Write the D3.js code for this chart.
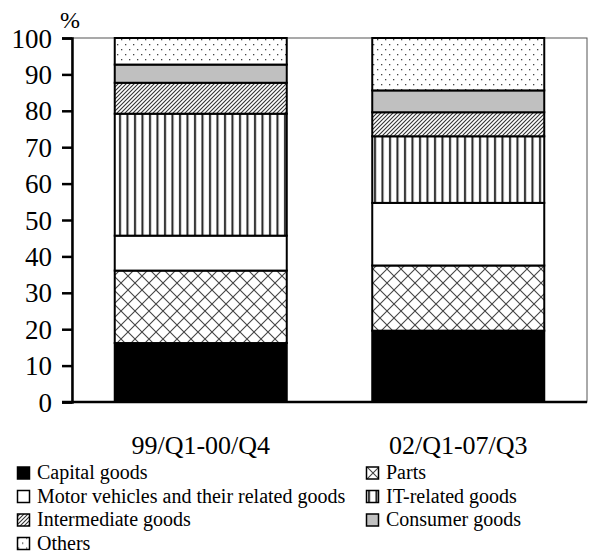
<!DOCTYPE html>
<html>
<head>
<meta charset="utf-8">
<script src="https://cdn.jsdelivr.net/npm/d3@7"></script>
<style>
  body { margin: 0; background: #fff; }
  text { font-family: "Liberation Serif", "Times New Roman", "DejaVu Serif", serif; fill: #000; }
</style>
</head>
<body>
<div id="chart"></div>
<script>
// periods on the x axis
var periods = ["99/Q1-00/Q4", "02/Q1-07/Q3"];
// categories, bottom to top of each bar
var categories = ["Capital goods", "Parts", "Motor vehicles and their related goods",
  "IT-related goods", "Intermediate goods", "Consumer goods", "Others"];
// shares (%) per period, same order as categories
var share9900 = [16.2, 19.9, 9.6, 33.5, 8.5, 5.0, 7.3];
var share0207 = [19.6, 17.9, 17.2, 18.3, 6.6, 6.0, 14.4];
var yTicks = [0, 10, 20, 30, 40, 50, 60, 70, 80, 90, 100];

var W = 597, H = 556,
  margin = {left: 72, right: 10, top: 38, bottom: 154},
  plotW = W - margin.left - margin.right,
  plotH = H - margin.top - margin.bottom,
  serif = '"Liberation Serif", "Times New Roman", "DejaVu Serif", serif';

var svg = d3.select('#chart').append('svg').attr('width', W).attr('height', H);
var defs = svg.append('defs');

//填充图案
function pattern(id, w, h, draw) {
  var p = defs.append('pattern').attr('id', id).attr('patternUnits', 'userSpaceOnUse')
    .attr('width', w).attr('height', h);
  p.append('rect').attr('width', w).attr('height', h).attr('fill', '#fff');
  draw(p);
}
pattern('pParts', 14, 14, function(p) {
  p.append('path').attr('d', 'M0,0L14,14M14,0L0,14').attr('stroke', '#444').attr('stroke-width', 1.1);
});
pattern('pIT', 7.5, 10, function(p) {
  p.append('rect').attr('x', 2).attr('width', 2).attr('height', 10).attr('fill', '#222');
});
pattern('pInter', 4, 4, function(p) {
  p.append('path').attr('d', 'M-1,1L1,-1M0,4L4,0M3,5L5,3').attr('stroke', '#333').attr('stroke-width', 1.1);
});
pattern('pOthers', 8, 10, function(p) {
  p.append('rect').attr('x', 1).attr('y', 1).attr('width', 1.3).attr('height', 1.3).attr('fill', '#444');
  p.append('rect').attr('x', 5).attr('y', 6).attr('width', 1.3).attr('height', 1.3).attr('fill', '#444');
});

var fills = ['#000', 'url(#pParts)', '#fff', 'url(#pIT)', 'url(#pInter)', '#c0c0c0', 'url(#pOthers)'];

var x = d3.scaleBand().domain(periods).range([0, plotW]).paddingInner(0.332).paddingOuter(0.166);
var y = d3.scaleLinear().domain([0, 100]).range([plotH, 0]);

var g = svg.append('g').attr('transform', 'translate(' + margin.left + ',' + margin.top + ')');

// plot frame
g.append('rect').attr('width', plotW).attr('height', plotH)
  .attr('fill', 'none').attr('stroke', '#555').attr('stroke-width', 1);

var rows = categories.map(function(c, i) {
  var o = {}; o[periods[0]] = share9900[i]; o[periods[1]] = share0207[i]; return o;
});
var table = periods.map(function(p) {
  var o = {period: p};
  categories.forEach(function(c, i) { o[c] = rows[i][p]; });
  return o;
});
var stack = d3.stack().keys(categories)(table);

g.selectAll('g.layer').data(stack).enter().append('g').attr('class', 'layer')
  .attr('fill', function(d, i) { return fills[i]; })
  .selectAll('rect').data(function(d) { return d; }).enter().append('rect')
  .attr('x', function(d) { return x(d.data.period); })
  .attr('width', x.bandwidth())
  .attr('y', function(d) { return y(d[1]); })
  .attr('height', function(d) { return y(d[0]) - y(d[1]); })
  .attr('stroke', '#000').attr('stroke-width', 2);

// y axis
var yAxis = g.append('g').call(d3.axisLeft(y).tickValues(yTicks).tickSize(10).tickPadding(10));
yAxis.attr('font-family', serif);
yAxis.select('.domain').attr('stroke', '#000').attr('stroke-width', 2.5);
yAxis.selectAll('.tick line').attr('stroke', '#000').attr('stroke-width', 2.5);
yAxis.selectAll('.tick text').style('font-size', '27px').style('font-family', serif).attr('dy', '0.34em');

// x axis
var xAxis = g.append('g').attr('transform', 'translate(0,' + plotH + ')')
  .call(d3.axisBottom(x).tickSize(0).tickPadding(34));
xAxis.attr('font-family', serif);
xAxis.select('.domain').attr('stroke', '#000').attr('stroke-width', 2.5).attr('d', 'M-10,0H' + plotW);
xAxis.selectAll('.tick text').style('font-size', '26px').style('font-family', serif);

svg.append('text').attr('x', 60).attr('y', 28).style('font-size', '24px').text('%');

// legend
var legend = svg.append('g').attr('transform', 'translate(17,466)');
var item = legend.selectAll('g').data(categories).enter().append('g')
  .attr('transform', function(d, i) { return 'translate(' + (i % 2 ? 349 : 0) + ',' + Math.floor(i / 2) * 23.5 + ')'; });
item.append('rect').attr('x', 0.5).attr('y', 1).attr('width', 12).attr('height', 12)
  .attr('fill', function(d, i) { return fills[i]; }).attr('stroke', '#000').attr('stroke-width', 1.5);
item.append('text').attr('x', 20).attr('y', 13).style('font-size', '20px').text(function(d) { return d; });
</script>
</body>
</html>
